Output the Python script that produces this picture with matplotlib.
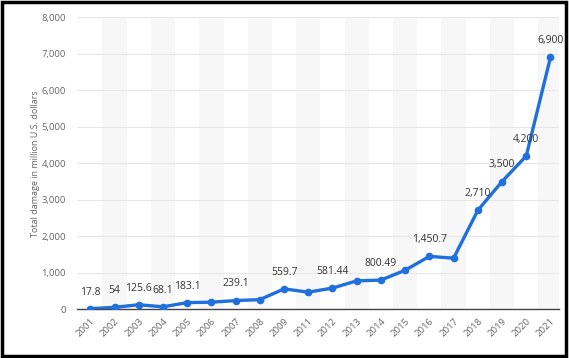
import numpy as np
import matplotlib
matplotlib.use('Agg')
import matplotlib.pyplot as plt
from matplotlib.patches import Rectangle

plt.rcParams['font.family'] = ['Open Sans', 'DejaVu Sans']

years = ['2001', '2002', '2003', '2004', '2005', '2006', '2007', '2008', '2009',
         '2011', '2012', '2013', '2014', '2015', '2016', '2017', '2018', '2019',
         '2020', '2021']
damage = [17.8, 54, 125.6, 68.1, 183.1, 195, 239.1, 265, 559.7,
          470, 581.44, 780, 800.49, 1070, 1450.7, 1400, 2710, 3500,
          4200, 6900]
labels = ['17.8', '54', '125.6', '68.1', '183.1', '', '239.1', '', '559.7',
          '', '581.44', '', '800.49', '', '1,450.7', '', '2,710', '3,500',
          '4,200', '6,900']
yticks = [0, 1000, 2000, 3000, 4000, 5000, 6000, 7000, 8000]

fig = plt.figure(figsize=(5.69, 3.58), dpi=100)
ax = fig.add_axes([0.1353, 0.136, 0.847, 0.8157])
x = np.arange(len(years))

# alternating column bands
for i in x:
    if i % 2 == 1:
        ax.axvspan(i - 0.5, i + 0.5, color='#f7f7f7', zorder=0, lw=0)

ax.plot(x, damage, color='#1f6fdd', lw=2.4, marker='o', ms=4.5, zorder=3,
        solid_joinstyle='round')
for xi, v, lab in zip(x, damage, labels):
    if lab:
        ax.annotate(lab, (xi, v), xytext=(0, 8), textcoords='offset points',
                    ha='center', va='bottom', fontsize=7.5, color='#333333')

ax.set_xlim(-0.55, 19.35)
ax.set_ylim(0, 8000)
ax.set_yticks(yticks)
ax.set_yticklabels(['{:,}'.format(t) for t in yticks])
ax.set_xticks(x)
ax.set_xticklabels(years, rotation=45, ha='right', rotation_mode='anchor')
ax.tick_params(axis='both', length=0, labelsize=6.8, labelcolor='#666666')
ax.tick_params(axis='y', pad=8)
ax.tick_params(axis='x', pad=5)
ax.grid(axis='y', color='#e6e6e6', lw=0.8)
ax.set_axisbelow(True)
for s in ['top', 'right', 'left']:
    ax.spines[s].set_visible(False)
ax.spines['bottom'].set_color('#444444')
ax.spines['bottom'].set_linewidth(1.0)
ax.set_ylabel('Total damage in million U.S. dollars', fontsize=6.5,
              color='#666666')
ax.yaxis.set_label_coords(-0.076, 0.5)

fig.patches.append(Rectangle((0.003, 0.006), 0.992, 0.988, transform=fig.transFigure,
                             fill=False, edgecolor='black', lw=2.5))

plt.savefig('out.png', dpi=100)
